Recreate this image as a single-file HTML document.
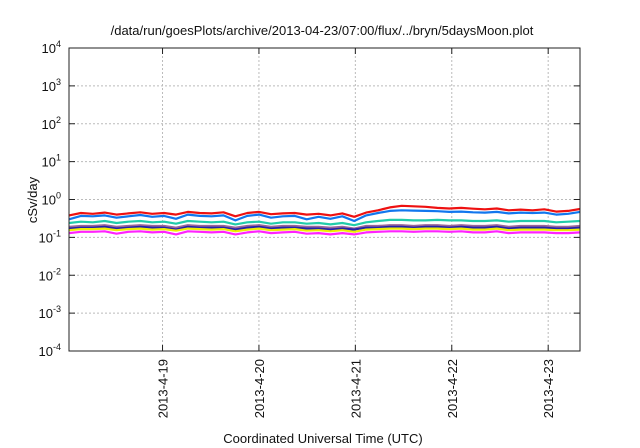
<!DOCTYPE html>
<html><head><meta charset="utf-8"><style>
body{margin:0;background:#fff}
svg{display:block;font-family:"Liberation Sans",sans-serif}
</style></head><body>
<svg id="chart" width="640" height="448" viewBox="0 0 640 448">
<text x="322" y="35" font-size="13" text-anchor="middle" fill="#111">/data/run/goesPlots/archive/2013-04-23/07:00/flux/../bryn/5daysMoon.plot</text>
<g id="grid"></g>
<g id="series"></g>
<rect x="69" y="48" width="511" height="303" fill="none" stroke="#222" stroke-width="1"/>
<g id="axes"></g>
<text transform="translate(37,200) rotate(-90)" font-size="13" text-anchor="middle" fill="#111">cSv/day</text>
<text x="323" y="443" font-size="13" text-anchor="middle" fill="#111">Coordinated Universal Time (UTC)</text>
</svg>
<script>
const xTickDays=[1,2,3,4,5];
const xTickLabels=["2013-4-19","2013-4-20","2013-4-21","2013-4-22","2013-4-23"];
const yTickExps=[-4,-3,-2,-1,0,1,2,3,4];
const seriesColors=["#ee1111","#1177ee","#22ccaa","#996699","#2222aa","#eeee00","#ff22ff"];
const red=[0.38,0.44,0.42,0.45,0.40,0.43,0.46,0.42,0.44,0.40,0.47,0.44,0.43,0.46,0.36,0.44,0.47,0.41,0.43,0.44,0.40,0.42,0.38,0.43,0.35,0.45,0.52,0.62,0.68,0.66,0.64,0.60,0.58,0.60,0.57,0.55,0.58,0.52,0.54,0.52,0.55,0.48,0.50,0.56];
const blue=[0.30,0.37,0.36,0.38,0.33,0.36,0.39,0.35,0.37,0.31,0.40,0.37,0.36,0.38,0.28,0.37,0.40,0.33,0.36,0.37,0.30,0.35,0.31,0.36,0.27,0.38,0.44,0.50,0.52,0.51,0.50,0.49,0.47,0.48,0.46,0.45,0.47,0.43,0.45,0.44,0.45,0.40,0.42,0.47];
const teal=[0.24,0.26,0.25,0.27,0.24,0.26,0.27,0.25,0.26,0.23,0.27,0.26,0.25,0.26,0.22,0.25,0.26,0.23,0.25,0.25,0.23,0.24,0.22,0.24,0.21,0.25,0.27,0.29,0.29,0.28,0.28,0.29,0.28,0.28,0.27,0.27,0.28,0.26,0.27,0.27,0.27,0.25,0.26,0.27];
const purple=[0.19,0.20,0.20,0.21,0.19,0.20,0.21,0.20,0.20,0.18,0.21,0.20,0.20,0.20,0.18,0.20,0.21,0.19,0.20,0.20,0.19,0.19,0.18,0.19,0.17,0.20,0.20,0.21,0.21,0.20,0.21,0.21,0.20,0.21,0.20,0.20,0.21,0.19,0.20,0.20,0.20,0.19,0.19,0.20];
const navy=[0.17,0.18,0.18,0.19,0.17,0.18,0.19,0.18,0.18,0.16,0.19,0.18,0.18,0.18,0.16,0.18,0.19,0.17,0.18,0.18,0.17,0.17,0.16,0.17,0.16,0.18,0.18,0.19,0.19,0.18,0.19,0.19,0.18,0.19,0.18,0.18,0.19,0.17,0.18,0.18,0.18,0.17,0.17,0.18];
const yellow=[0.155,0.165,0.165,0.17,0.155,0.165,0.17,0.16,0.165,0.15,0.17,0.165,0.16,0.165,0.145,0.16,0.17,0.155,0.16,0.165,0.15,0.155,0.145,0.155,0.14,0.16,0.165,0.17,0.17,0.165,0.17,0.17,0.165,0.17,0.16,0.16,0.17,0.155,0.16,0.16,0.16,0.155,0.155,0.16];
const magenta=[0.13,0.14,0.14,0.145,0.125,0.14,0.145,0.135,0.14,0.12,0.145,0.14,0.135,0.14,0.12,0.135,0.145,0.13,0.135,0.14,0.125,0.13,0.12,0.13,0.12,0.135,0.14,0.145,0.145,0.14,0.145,0.145,0.14,0.145,0.135,0.135,0.145,0.13,0.135,0.135,0.135,0.13,0.13,0.135];
const allSeries=[red,blue,teal,purple,navy,yellow,magenta];
const seriesNames=["series-red","series-blue","series-teal","series-purple","series-navy","series-yellow","series-magenta"];
const dayStart=0.03, dayEnd=5.33;
const NS="http://www.w3.org/2000/svg";
const X0=69,X1=580,Y0=48,Y1=351;
function xScale(d){return X0+(d-dayStart)/(dayEnd-dayStart)*(X1-X0);}
function yScale(v){return Y1-(Math.log10(v)+4)/8*(Y1-Y0);}
function mk(tag,attrs,parent){const e=document.createElementNS(NS,tag);for(const k in attrs)e.setAttribute(k,attrs[k]);parent.appendChild(e);return e;}
const grid=document.getElementById('grid'),axes=document.getElementById('axes'),ser=document.getElementById('series');
yTickExps.forEach(p=>{
  const y=yScale(Math.pow(10,p));
  if(p>-4&&p<4){const g=mk('line',{x1:X0,x2:X1,y1:y,y2:y,stroke:'#bbb','stroke-dasharray':'2,2'},grid);
  
  }
  const t1=mk('line',{x1:X0,x2:X0+6,y1:y,y2:y,stroke:'#222'},axes);
  
  
  const t2=mk('line',{x1:X1-6,x2:X1,y1:y,y2:y,stroke:'#222'},axes);
  
  
  const tx=mk('text',{x:X0-8,y:y+5,'font-size':'13','text-anchor':'end',fill:'#111'},axes);
  
  
  tx.innerHTML='10<tspan dy="-6" font-size="9">'+p+'</tspan>';
});
xTickDays.forEach((d,i)=>{
  const x=xScale(d);
  const g=mk('line',{x1:x,x2:x,y1:Y0,y2:Y1,stroke:'#bbb','stroke-dasharray':'2,2'},grid);
  
  
  const t=mk('line',{x1:x,x2:x,y1:Y1-6,y2:Y1,stroke:'#222'},axes);
  
  
  const t2=mk('line',{x1:x,x2:x,y1:Y0,y2:Y0+6,stroke:'#222'},axes);
  
  
  const tx=mk('text',{transform:'translate('+(x+5)+','+(Y1+8)+') rotate(-90)','font-size':'13','text-anchor':'end',fill:'#111'},axes);
  
  
  tx.textContent=xTickLabels[i];
});
allSeries.forEach((arr,si)=>{
  const n=arr.length;
  const pts=arr.map((v,i)=>{const d=dayStart+(dayEnd-dayStart)*i/(n-1);return xScale(d).toFixed(1)+','+yScale(v).toFixed(1);}).join(' ');
  const pl=mk('polyline',{points:pts,fill:'none',stroke:seriesColors[si],'stroke-width':'2.2','stroke-linejoin':'round'},ser);
  
  
});
</script>
</body></html>
